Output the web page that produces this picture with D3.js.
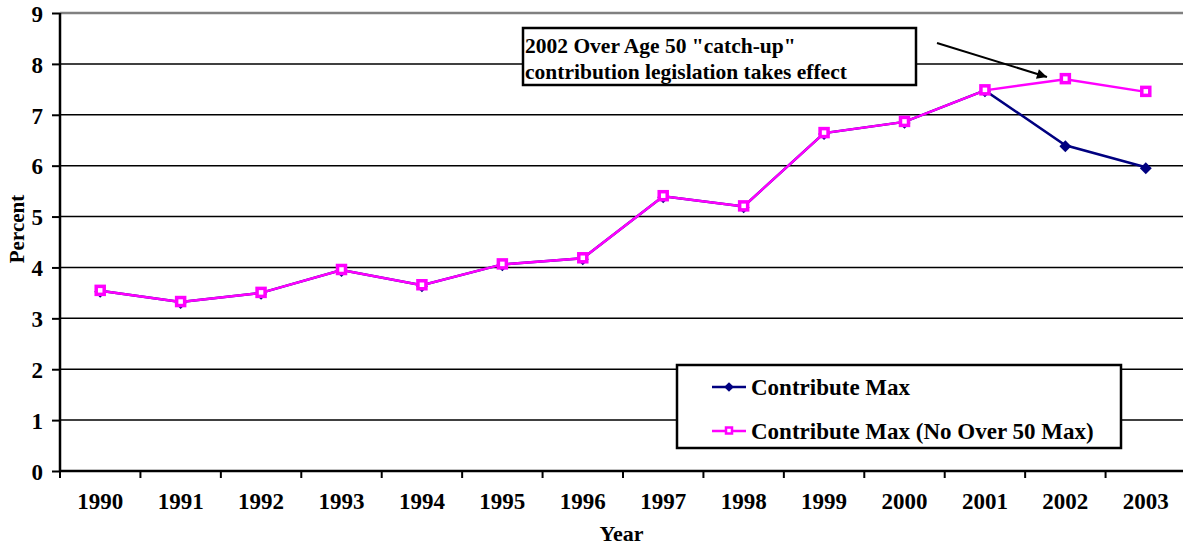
<!DOCTYPE html>
<html>
<head>
<meta charset="utf-8">
<script src="https://cdn.jsdelivr.net/npm/d3@7"></script>
<style>
  body { margin: 0; background: #fff; }
  svg text { font-family: "Liberation Serif", "Times New Roman", serif !important; font-weight: bold; fill: #000; }
</style>
</head>
<body>
<svg id="chart" width="1183" height="546"></svg>
<script>
const years = ["1990","1991","1992","1993","1994","1995","1996","1997","1998","1999","2000","2001","2002","2003"];
const contributeMax = [3.54, 3.32, 3.50, 3.95, 3.65, 4.06, 4.18, 5.40, 5.20, 6.64, 6.86, 7.48, 6.40, 5.97];
const noOver50Max = [3.54, 3.32, 3.50, 3.95, 3.65, 4.06, 4.18, 5.40, 5.20, 6.64, 6.86, 7.48, 7.70, 7.45];
const yTicks = [0, 1, 2, 3, 4, 5, 6, 7, 8, 9];
const seriesNames = ["Contribute Max", "Contribute Max (No Over 50 Max)"];
const noteLines = ["2002 Over Age 50 \"catch-up\"", "contribution legislation takes effect"];

const serif = "'Liberation Serif', 'Times New Roman', serif";
const svg = d3.select("#chart");
const margin = { top: 13, left: 60, bottom: 75 };
const plotRight = 1186;
const height = 546;

const x = d3.scaleBand().domain(years).range([margin.left, plotRight]);
const y = d3.scaleLinear().domain([0, 9]).range([height - margin.bottom, margin.top]);

// gridlines
svg.append("g")
  .selectAll("line")
  .data(yTicks.filter(d => d > 0))
  .join("line")
  .attr("x1", margin.left)
  .attr("x2", plotRight)
  .attr("y1", d => y(d))
  .attr("y2", d => y(d))
  .attr("stroke", d => d === 9 ? "#808080" : "#000")
  .attr("stroke-width", d => d === 9 ? 2.5 : 1.5);

// y axis
const yAxis = svg.append("g")
  .attr("transform", `translate(${margin.left},0)`)
  .call(d3.axisLeft(y).tickValues(yTicks).tickSize(8).tickPadding(9).tickFormat(d3.format("d")))
  .attr("font-family", serif)
  .attr("font-size", 23);
yAxis.select(".domain").attr("stroke-width", 2.5).attr("d", `M0,${y(0)}V${y(9)}`);
yAxis.selectAll(".tick line").attr("stroke-width", 2);
yAxis.selectAll(".tick text").style("font-family", serif).attr("dy", "0.36em");

// x axis
const xAxis = svg.append("g")
  .attr("transform", `translate(0,${y(0)})`)
  .call(d3.axisBottom(x).tickSize(0).tickPadding(22))
  .attr("font-family", serif)
  .attr("font-size", 23);
xAxis.select(".domain").attr("stroke-width", 2.5).attr("d", `M${margin.left},0H${plotRight}`);
xAxis.selectAll(".tick text").style("font-family", serif);
xAxis.append("g")
  .selectAll("line")
  .data(years)
  .join("line")
  .attr("x1", d => x(d))
  .attr("x2", d => x(d))
  .attr("y1", 0)
  .attr("y2", 7)
  .attr("stroke", "#000")
  .attr("stroke-width", 2);

// axis titles
svg.append("text")
  .attr("transform", "translate(24,229) rotate(-90)")
  .attr("text-anchor", "middle")
  .attr("font-size", 21)
  .text("Percent");
svg.append("text")
  .attr("x", (margin.left + 1183) / 2)
  .attr("y", 541)
  .attr("text-anchor", "middle")
  .attr("font-size", 22)
  .text("Year");

// series
const cx = d => x(d) + x.bandwidth() / 2;
const line = d3.line().x(d => cx(d.year)).y(d => y(d.value));
const blueData = years.map((yr, i) => ({ year: yr, value: contributeMax[i] }));
const pinkData = years.map((yr, i) => ({ year: yr, value: noOver50Max[i] }));

svg.append("path")
  .datum(blueData)
  .attr("d", line)
  .attr("fill", "none")
  .attr("stroke", "#000080")
  .attr("stroke-width", 2.5);

svg.append("g")
  .selectAll("path")
  .data(blueData)
  .join("path")
  .attr("d", d3.symbol().type(d3.symbolDiamond2).size(90))
  .attr("transform", d => `translate(${cx(d.year)},${y(d.value) + 1})`)
  .attr("fill", "#000080");

svg.append("path")
  .datum(pinkData)
  .attr("d", line)
  .attr("fill", "none")
  .attr("stroke", "#ff00ff")
  .attr("stroke-width", 2.5);

svg.append("g")
  .selectAll("rect")
  .data(pinkData)
  .join("rect")
  .attr("x", d => cx(d.year) - 4)
  .attr("y", d => y(d.value) - 4.5)
  .attr("width", 8)
  .attr("height", 8)
  .attr("fill", "#fff")
  .attr("stroke", "#ff00ff")
  .attr("stroke-width", 3.5);

// legend
const legend = svg.append("g").attr("transform", "translate(677,365)");
legend.append("rect")
  .attr("width", 444)
  .attr("height", 83)
  .attr("fill", "#fff")
  .attr("stroke", "#000")
  .attr("stroke-width", 2.5);
const legendRows = legend.selectAll("g.row")
  .data(seriesNames)
  .join("g")
  .attr("class", "row")
  .attr("transform", (d, i) => `translate(0,${22 + i * 44})`);
legendRows.append("line")
  .attr("x1", 35)
  .attr("x2", 69)
  .attr("stroke", (d, i) => i === 0 ? "#000080" : "#ff00ff")
  .attr("stroke-width", 2.5);
legendRows.filter((d, i) => i === 0).append("path")
  .attr("d", d3.symbol().type(d3.symbolDiamond2).size(60))
  .attr("transform", "translate(52,0)")
  .attr("fill", "#000080");
legendRows.filter((d, i) => i === 1).append("rect")
  .attr("x", 49)
  .attr("y", -3.5)
  .attr("width", 6)
  .attr("height", 6)
  .attr("fill", "#fff")
  .attr("stroke", "#ff00ff")
  .attr("stroke-width", 2.5);
legendRows.append("text")
  .attr("x", 74)
  .attr("y", 8)
  .attr("font-size", 23)
  .text(d => d);

// annotation
const note = svg.append("g").attr("transform", "translate(523,28)");
note.append("rect")
  .attr("width", 393)
  .attr("height", 57)
  .attr("fill", "#fff")
  .attr("stroke", "#000")
  .attr("stroke-width", 2.5);
note.selectAll("text")
  .data(noteLines)
  .join("text")
  .attr("x", 2)
  .attr("y", (d, i) => 25 + i * 26)
  .attr("font-size", 21.5)
  .text(d => d);

svg.append("defs").append("marker")
  .attr("id", "arrow")
  .attr("viewBox", "0 0 10 10")
  .attr("refX", 10)
  .attr("refY", 5)
  .attr("markerWidth", 6)
  .attr("markerHeight", 5)
  .attr("markerUnits", "strokeWidth")
  .attr("orient", "auto")
  .append("path")
  .attr("d", "M0,0L10,5L0,10Z")
  .attr("fill", "#000");

svg.append("line")
  .attr("x1", 937)
  .attr("y1", 43)
  .attr("x2", 1047)
  .attr("y2", 77)
  .attr("stroke", "#000")
  .attr("stroke-width", 2)
  .attr("marker-end", "url(#arrow)");
</script>
</body>
</html>
